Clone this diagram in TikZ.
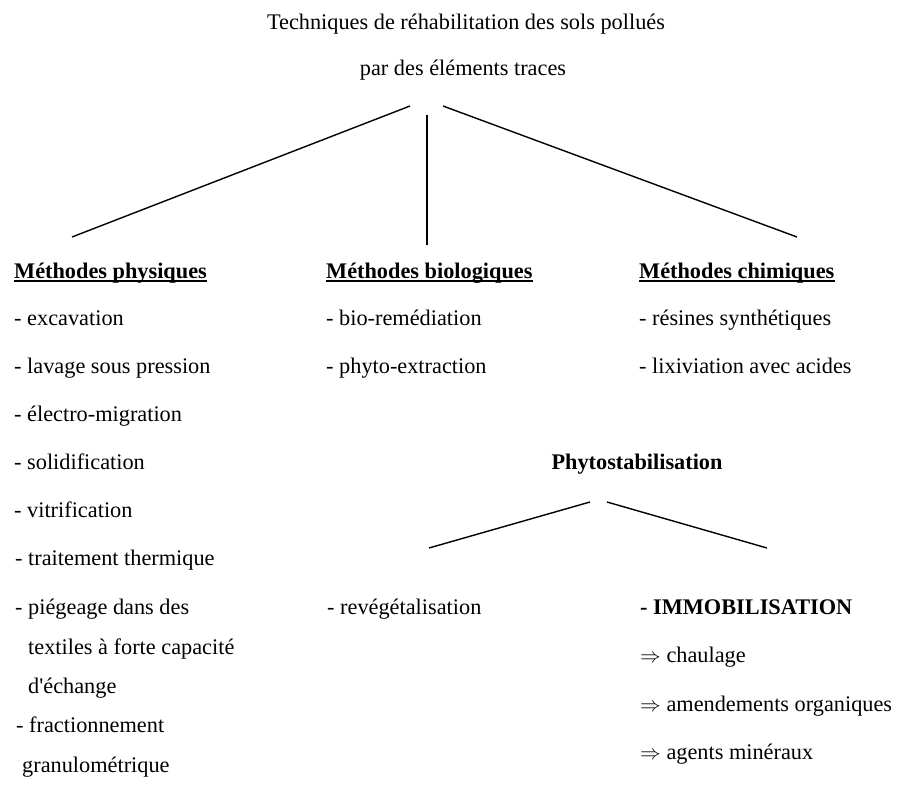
\documentclass[tikz,border=0pt]{standalone}
\usepackage{fontspec}
\setmainfont{Liberation Serif}
\begin{document}
\begin{tikzpicture}[x=1pt,y=-1pt,
  txt/.style={inner sep=0pt,anchor=base west,font=\fontsize{22.3}{25}\selectfont},
  ctxt/.style={inner sep=0pt,anchor=base,font=\fontsize{22.3}{25}\selectfont},
  hdr/.style={txt,font=\fontsize{22.3}{25}\selectfont\bfseries},
  conn/.style={line width=1.4pt},
  uline/.style={line width=1.1pt}]
\useasboundingbox (0,0) rectangle (898,787);
% title
\node[ctxt] (t1) at (466,29) {Techniques de réhabilitation des sols pollués};
\node[ctxt] (t2) at (463,75) {par des éléments traces};
% connector ends
\coordinate (a0) at (410,106);
\coordinate (b0) at (427,115);
\coordinate (c0) at (443,106);
\coordinate (a1) at (72,237);
\coordinate (b1) at (427,245);
\coordinate (c1) at (797,237);
\draw[conn] (a0) -- (a1);
\draw[conn] (b0) -- (b1);
\draw[conn] (c0) -- (c1);
% headers
\node[hdr] (hp) at (14,278) {Méthodes physiques};
\node[hdr] (hb) at (326,278) {Méthodes biologiques};
\node[hdr] (hc) at (639,278) {Méthodes chimiques};
\foreach \h in {hp,hb,hc}
  \draw[uline] ([yshift=-3pt]\h.base west) -- ([yshift=-3pt]\h.base east);
% physical
\node[txt] (p1) at (14,325) {- excavation};
\node[txt] (p2) at (14,373) {- lavage sous pression};
\node[txt] (p3) at (14,421) {- électro-migration};
\node[txt] (p4) at (14,469) {- solidification};
\node[txt] (p5) at (14,517) {- vitrification};
\node[txt] (p6) at (15,565) {- traitement thermique};
\node[txt] (p7) at (15,614) {- piégeage dans des};
\node[txt] (p8) at (28,654) {textiles à forte capacité};
\node[txt] (p9) at (28,693) {d\textquotesingle échange};
\node[txt] (p10) at (16,732) {- fractionnement};
\node[txt] (p11) at (22,772) {granulométrique};
% biological
\node[txt] (b1t) at (326,325) {- bio-remédiation};
\node[txt] (b2t) at (326,373) {- phyto-extraction};
\node[txt] (b3t) at (327,614) {- revégétalisation};
% chemical
\node[txt] (c1t) at (639,325) {- résines synthétiques};
\node[txt] (c2t) at (639,373) {- lixiviation avec acides};
% phytostabilisation
\node[ctxt,font=\fontsize{22.3}{25}\selectfont\bfseries] (ph) at (637,469) {Phytostabilisation};
\coordinate (d0) at (590,502);
\coordinate (d1) at (429,548);
\coordinate (e0) at (607,502);
\coordinate (e1) at (767,548);
\draw[conn] (d0) -- (d1);
\draw[conn] (e0) -- (e1);
\node[hdr] (im) at (640,614) {- IMMOBILISATION};
\node[txt] (i1) at (640,662) {$\Rightarrow$ chaulage};
\node[txt] (i2) at (640,711) {$\Rightarrow$ amendements organiques};
\node[txt] (i3) at (640,759) {$\Rightarrow$ agents minéraux};
\end{tikzpicture}
\end{document}
